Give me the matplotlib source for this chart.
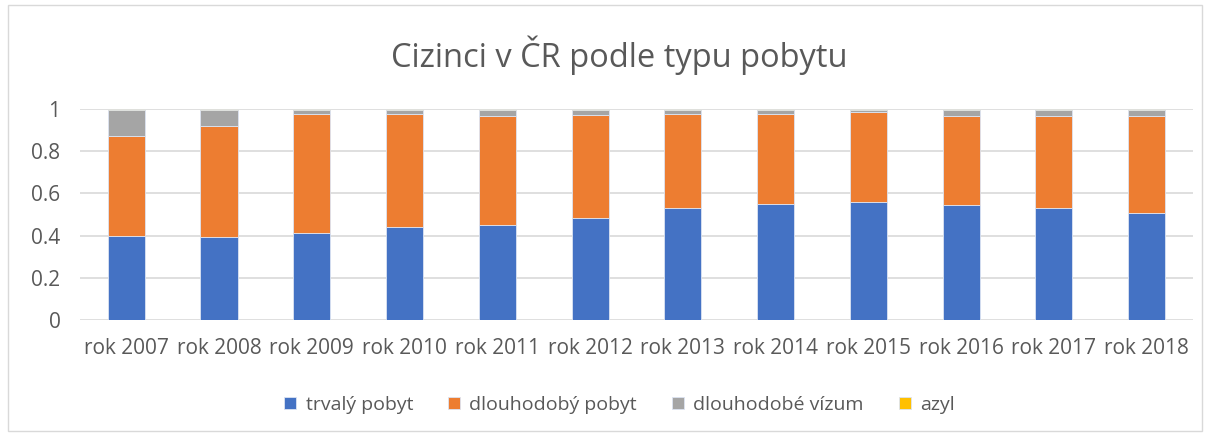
import matplotlib.pyplot as plt
from matplotlib.patches import Rectangle

plt.rcParams['font.family'] = ['Open Sans', 'DejaVu Sans']

years = ["rok 2007", "rok 2008", "rok 2009", "rok 2010", "rok 2011", "rok 2012",
         "rok 2013", "rok 2014", "rok 2015", "rok 2016", "rok 2017", "rok 2018"]
trvaly = [0.398, 0.392, 0.412, 0.441, 0.449, 0.483, 0.532, 0.551, 0.558, 0.545, 0.532, 0.509]
dlouhodoby = [0.474, 0.529, 0.564, 0.535, 0.516, 0.487, 0.444, 0.425, 0.426, 0.420, 0.433, 0.456]
vizum = [0.123, 0.074, 0.019, 0.019, 0.030, 0.025, 0.019, 0.019, 0.011, 0.030, 0.030, 0.030]
azyl = [0.005, 0.005, 0.005, 0.005, 0.005, 0.005, 0.005, 0.005, 0.005, 0.005, 0.005, 0.005]

series = [("trvalý pobyt", trvaly, "#4472C4"),
          ("dlouhodobý pobyt", dlouhodoby, "#ED7D31"),
          ("dlouhodobé vízum", vizum, "#A5A5A5"),
          ("azyl", azyl, "#FFC000")]

txt = "#595959"
fig = plt.figure(figsize=(12.1, 4.36), dpi=100)
ax = fig.add_axes([0.066, 0.266, 0.92, 0.484])

x = list(range(len(years)))
bottom = [0.0] * len(years)
for name, vals, col in series:
    ax.bar(x, vals, width=0.4, bottom=bottom, color=col, label=name,
           edgecolor="#dce4f2", linewidth=0.6, zorder=3)
    bottom = [b + v for b, v in zip(bottom, vals)]

ax.set_xlim(-0.5, len(years) - 0.5)
ax.set_ylim(0, 1)
ax.set_yticks([0, 0.2, 0.4, 0.6, 0.8, 1])
ax.set_yticklabels(["0", "0.2", "0.4", "0.6", "0.8", "1"])
ax.set_xticks(x)
ax.set_xticklabels(years)
ax.tick_params(axis="both", length=0, colors=txt, labelsize=15)
ax.tick_params(axis="x", pad=13)
ax.tick_params(axis="y", pad=14)
ax.yaxis.grid(True, color="#d9d9d9", linewidth=1.2, zorder=0)
for s in ax.spines.values():
    s.set_visible(False)

fig.text(0.512, 0.874, "Cizinci v ČR podle typu pobytu", ha="center", va="center",
         fontsize=23.5, color=txt)

fig.legend(loc="center", bbox_to_anchor=(0.512, 0.071), ncol=4, frameon=False,
           fontsize=14, handlelength=0.6, handleheight=0.6, handletextpad=0.5,
           columnspacing=1.8, labelcolor=txt)

fig.patches.append(Rectangle((0.007, 0.012), 0.986, 0.976, transform=fig.transFigure,
                             fill=False, edgecolor="#d9d9d9", linewidth=1))

fig.savefig("out.png", dpi=100)
